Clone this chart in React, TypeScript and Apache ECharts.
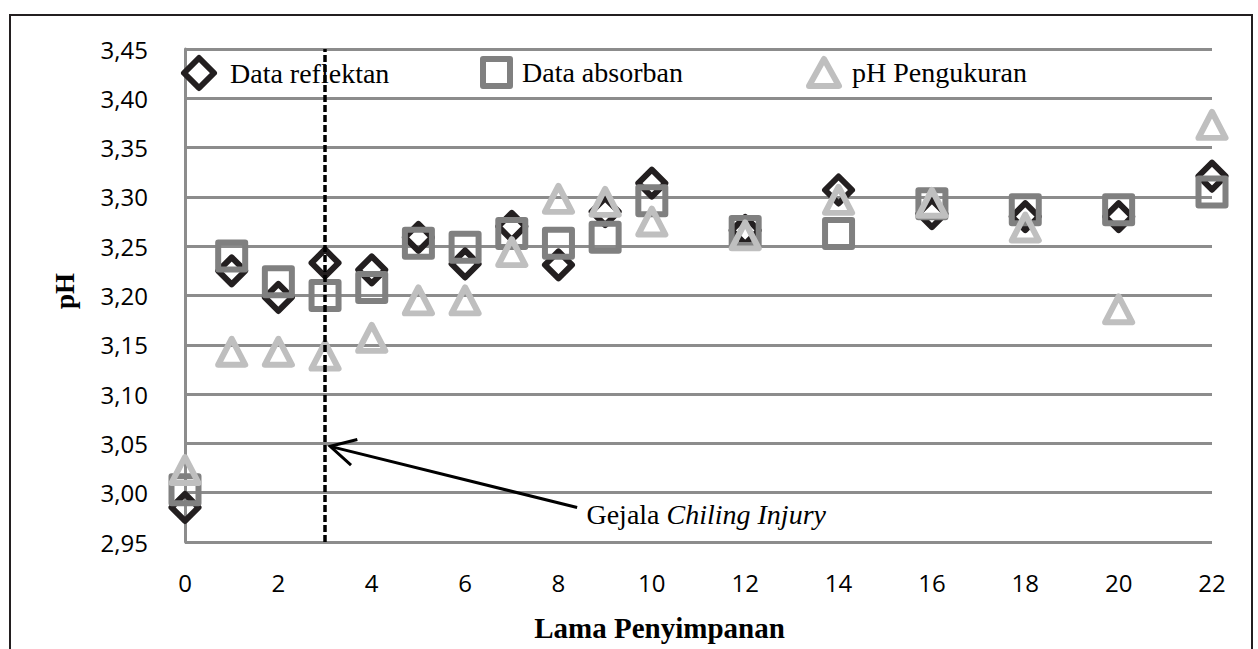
import React, { useEffect, useRef } from "react";
import * as echarts from "echarts";

// ---- data ----
const days = [0, 1, 2, 3, 4, 5, 6, 7, 8, 9, 10, 12, 14, 16, 18, 20, 22];
const reflektan = [2.985, 3.225, 3.198, 3.233, 3.226, 3.259, 3.232, 3.27, 3.231, 3.285, 3.314, 3.266, 3.307, 3.283, 3.28, 3.28, 3.321];
const absorban = [3.003, 3.24, 3.214, 3.2, 3.208, 3.253, 3.249, 3.263, 3.253, 3.259, 3.296, 3.265, 3.263, 3.293, 3.287, 3.287, 3.305];
const phPengukuran = [3.023, 3.143, 3.143, 3.139, 3.157, 3.195, 3.195, 3.244, 3.298, 3.295, 3.275, 3.261, 3.297, 3.294, 3.269, 3.186, 3.373];

const seriesNames = ["Data reflektan", "Data absorban", "pH Pengukuran"];
const xTicks = { min: 0, max: 22, interval: 2 };
const yTicks = { min: 2.95, max: 3.45, interval: 0.05 };

const chilingDay = 3;
const arrowTip = [3.11, 3.047];
const arrowTail = [8.4, 2.985];
const noteAnchor = [8.6, 2.978];

const C_REF = "#231f20";
const C_ABS = "#808080";
const C_PH = "#bfbfbf";
const C_GRID = "#8c8c8c";
const SERIF = "Liberation Serif";

const pairs = (ys: number[]) => days.map((d, i) => [d, ys[i]]);

export default function App() {
  const ref = useRef<HTMLDivElement>(null);
  useEffect(() => {
    if (!ref.current) return;
    const chart = echarts.init(ref.current, null, { renderer: "svg" });
    const sansLabel = { fontFamily: "Open Sans", fontSize: 24, color: "#000" };
    const legendText = { fontFamily: SERIF, fontSize: 28, color: "#000" };
    const option: any = {
      animation: false,
      grid: { left: 185, right: 46, top: 49, bottom: 107, containLabel: false },
      legend: [
        {
          left: 181, top: 55, padding: 0, itemWidth: 30, itemHeight: 30,
          textStyle: { ...legendText, padding: [0, 0, 4, 11] },
          data: [{ name: seriesNames[0], icon: "diamond", itemStyle: { color: "transparent", borderColor: C_REF, borderWidth: 6, borderJoin: "round" } }],
          selectedMode: false,
        },
        {
          left: 480, top: 56, padding: 0, itemWidth: 27, itemHeight: 27,
          textStyle: { ...legendText, padding: [0, 0, 4, 7] },
          data: [{ name: seriesNames[1], icon: "rect", itemStyle: { color: "transparent", borderColor: C_ABS, borderWidth: 6, borderJoin: "round" } }],
          selectedMode: false,
        },
        {
          left: 806, top: 56, padding: 0, itemWidth: 30, itemHeight: 27,
          textStyle: { ...legendText, padding: [0, 0, 4, 8] },
          data: [{ name: seriesNames[2], icon: "triangle", itemStyle: { color: "transparent", borderColor: C_PH, borderWidth: 6, borderJoin: "round" } }],
          selectedMode: false,
        },
      ],
      xAxis: {
        type: "value",
        min: xTicks.min, max: xTicks.max, interval: xTicks.interval,
        name: "Lama Penyimpanan",
        nameLocation: "middle",
        nameGap: 71,
        nameTextStyle: { fontFamily: SERIF, fontSize: 29, fontWeight: "bold", color: "#000", padding: [0, 78, 0, 0] },
        axisLine: { show: false },
        axisTick: { show: false },
        splitLine: { show: false },
        axisLabel: { ...sansLabel, margin: 28 },
      },
      yAxis: {
        type: "value",
        min: yTicks.min, max: yTicks.max, interval: yTicks.interval,
        name: "pH",
        nameLocation: "middle",
        nameGap: 107,
        nameTextStyle: { fontFamily: SERIF, fontSize: 27, fontWeight: "bold", color: "#000", padding: [0, 0, 0, 9] },
        axisLine: { show: true, lineStyle: { color: C_GRID, width: 3 } },
        axisTick: { show: false },
        splitLine: { show: true, lineStyle: { color: C_GRID, width: 3 } },
        axisLabel: {
          ...sansLabel,
          margin: 37,
          padding: [6, 0, 0, 0],
          formatter: (v: number) => v.toFixed(2).replace(".", ","),
        },
      },
      series: [
        {
          name: seriesNames[0], type: "scatter", symbol: "diamond", symbolSize: 27,
          itemStyle: { color: "transparent", borderColor: C_REF, borderWidth: 6, borderJoin: "round", opacity: 1 },
          data: pairs(reflektan),
          markLine: {
            silent: true, symbol: "none", label: { show: false },
            lineStyle: { color: "#000", width: 3.5, type: [7, 3] },
            data: [{ xAxis: chilingDay }],
          },
        },
        {
          name: seriesNames[1], type: "scatter", symbol: "rect", symbolSize: 27,
          itemStyle: { color: "transparent", borderColor: C_ABS, borderWidth: 6, borderJoin: "round", opacity: 1 },
          data: pairs(absorban),
        },
        {
          name: seriesNames[2], type: "scatter", symbol: "triangle", symbolSize: [27, 26],
          itemStyle: { color: "transparent", borderColor: C_PH, borderWidth: 6, borderJoin: "round", opacity: 1 },
          data: pairs(phPengukuran),
        },
      ],
    };
    chart.setOption(option);

    const tip = chart.convertToPixel({ xAxisIndex: 0, yAxisIndex: 0 }, arrowTip) as number[];
    const tail = chart.convertToPixel({ xAxisIndex: 0, yAxisIndex: 0 }, arrowTail) as number[];
    const note = chart.convertToPixel({ xAxisIndex: 0, yAxisIndex: 0 }, noteAnchor) as number[];
    const dx = tail[0] - tip[0];
    const dy = tail[1] - tip[1];
    const len = Math.hypot(dx, dy);
    const ux = dx / len, uy = dy / len;
    const ang = (28 * Math.PI) / 180;
    const arm = 28;
    const rot = (a: number) => [
      tip[0] + arm * (ux * Math.cos(a) - uy * Math.sin(a)),
      tip[1] + arm * (ux * Math.sin(a) + uy * Math.cos(a)),
    ];
    const a1 = rot(ang), a2 = rot(-ang);

    chart.setOption({
      graphic: [
        {
          type: "rect", silent: true,
          shape: { x: 10, y: 15, width: 1242, height: 700 },
          style: { fill: "none", stroke: C_REF, lineWidth: 2 },
          z: 100,
        },
        {
          type: "line", silent: true,
          shape: { x1: tail[0], y1: tail[1], x2: tip[0], y2: tip[1] },
          style: { stroke: "#000", lineWidth: 3 },
          z: 100,
        },
        {
          type: "polyline", silent: true,
          shape: { points: [a1, tip, a2] },
          style: { stroke: "#000", lineWidth: 3, fill: "none" },
          z: 100,
        },
        {
          type: "text", silent: true,
          x: note[0], y: note[1],
          style: {
            text: "{n|Gejala }{i|Chiling Injury}",
            fontFamily: SERIF,
            fontSize: 28,
            fill: "#000",
            verticalAlign: "middle",
            align: "left",
            rich: {
              n: { fontFamily: SERIF, fontSize: 28, fontStyle: "normal", fill: "#000" },
              i: { fontFamily: SERIF, fontSize: 28, fontStyle: "italic", fill: "#000" },
            },
          },
          z: 100,
        },
      ],
    });

    return () => chart.dispose();
  }, []);
  return (
    <div
      ref={ref}
      style={{ position: "absolute", left: 0, top: 0, width: 1258, height: 649, overflow: "hidden", background: "#fff" }}
    />
  );
}
